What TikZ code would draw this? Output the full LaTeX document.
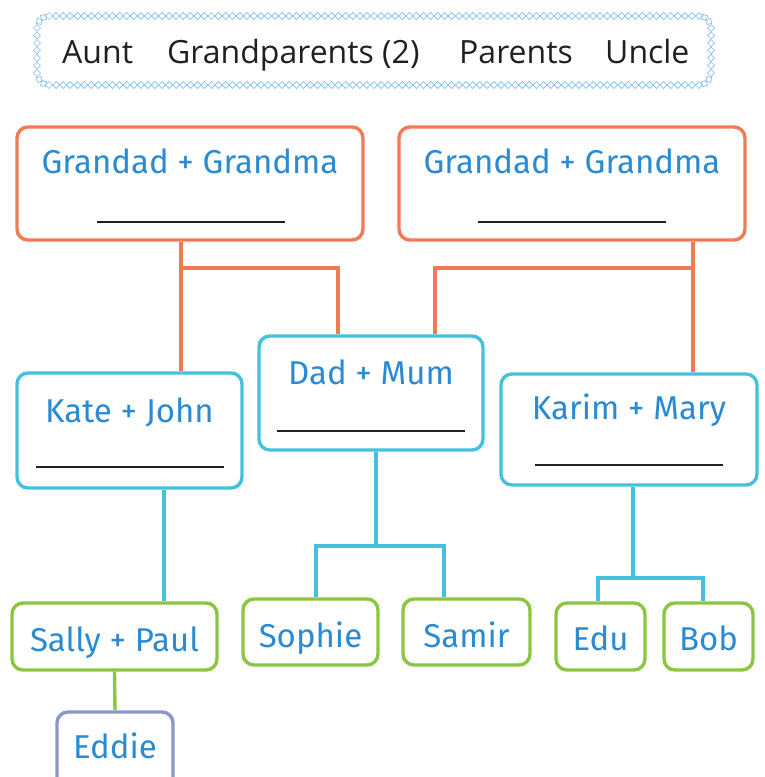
\documentclass[tikz,border=0pt]{standalone}
\usepackage{fontspec}
\setmainfont{Open Sans}
\newfontfamily\handfont{Fira Sans}
\usetikzlibrary{calc}
\definecolor{orangeb}{HTML}{F07B55}
\definecolor{cyanb}{HTML}{45C1DD}
\definecolor{greenb}{HTML}{8CC63F}
\definecolor{purpleb}{HTML}{8C96C8}
\definecolor{textblue}{HTML}{2A8BD2}
\definecolor{darktext}{HTML}{231F20}
\definecolor{chainblue}{HTML}{7FBFEB}
\newcommand{\dia}[3]{\draw[chainline, rotate around={#3:(#1,#2)}] (#1-3.5,#2) -- (#1,#2-3.5) -- (#1+3.5,#2) -- (#1,#2+3.5) -- cycle;}
\tikzset{
  box/.style={draw, line width=3.4pt, rounded corners=11pt, fill=white, inner sep=0pt},
  obox/.style={box, draw=orangeb},
  cbox/.style={box, draw=cyanb},
  gbox/.style={box, draw=greenb},
  pbox/.style={box, draw=purpleb},
  nametxt/.style={font=\handfont\fontsize{33}{36}\selectfont, text=textblue, inner sep=0pt, anchor=base},
  blank/.style={draw=darktext, line width=1.8pt},
  oline/.style={draw=orangeb, line width=3.4pt},
  cline/.style={draw=cyanb, line width=3.4pt},
  gline/.style={draw=greenb, line width=3.4pt},
  word/.style={font=\fontsize{32}{36}\selectfont, text=darktext, inner sep=0pt, anchor=base west},
  chainline/.style={draw=chainblue, line width=0.7pt},
}
\begin{document}
\begin{tikzpicture}[x=1pt,y=-1pt]
\useasboundingbox (0,0) rectangle (765,777);
% banner border: chain of small diamonds
\foreach \i in {0,...,92} {
  \pgfmathsetmacro{\xx}{49+\i*7.0652}
  \dia{\xx}{16}{0}
  \dia{\xx}{85}{0}
}
\foreach \i in {0,...,6} {
  \pgfmathsetmacro{\yy}{28+\i*7.5}
  \dia{37}{\yy}{0}
  \dia{711}{\yy}{0}
}
\dia{39.2}{21.5}{30}\dia{43.5}{17.4}{60}
\dia{708.8}{21.5}{-30}\dia{704.5}{17.4}{-60}
\dia{39.2}{79.5}{-30}\dia{43.5}{83.6}{-60}
\dia{708.8}{79.5}{30}\dia{704.5}{83.6}{60}
\node[word] (w1) at (62,63) {Aunt};
\node[word] (w2) at (167,63) {Grandparents (2)};
\node[word] (w3) at (459,63) {Parents};
\node[word] (w4) at (605,63) {Uncle};

\coordinate (o1) at (181,268);
\coordinate (o2) at (338,268);
\coordinate (o3) at (435,268);
\coordinate (o4) at (693,268);
\coordinate (c1) at (316,546);
\coordinate (c2) at (444,546);
\coordinate (c3) at (376,546);
\coordinate (c4) at (598,578);
\coordinate (c5) at (703,578);
\coordinate (c6) at (633,578);
\coordinate (c7) at (164,500);

% boxes
\node[obox, minimum width=346pt, minimum height=113pt] (gp1) at (190,183.5) {};
\node[obox, minimum width=346pt, minimum height=113pt] (gp2) at (572,183.5) {};
\node[cbox, minimum width=225pt, minimum height=115pt] (kj) at (129.5,430.5) {};
\node[cbox, minimum width=224pt, minimum height=114pt] (dm) at (371,393) {};
\node[cbox, minimum width=256pt, minimum height=111pt] (km) at (629,429.5) {};
\node[gbox, minimum width=205pt, minimum height=67pt] (sp) at (114.5,636.5) {};
\node[gbox, minimum width=135pt, minimum height=66pt] (so) at (310.5,632) {};
\node[gbox, minimum width=127pt, minimum height=66pt] (sa) at (466.5,632) {};
\node[gbox, minimum width=89pt, minimum height=67pt] (ed) at (600.5,636.5) {};
\node[gbox, minimum width=89pt, minimum height=67pt] (bo) at (708.5,636.5) {};
\node[pbox, minimum width=116pt, minimum height=76pt] (eddie) at (115,750) {};

% connectors
\path[oline] (gp1.south -| o1) -- (kj.north -| o1);
\path[oline] (o1) -- (o2) -- (dm.north -| o2);
\path[oline] (gp2.south -| o4) -- (km.north -| o4);
\path[oline] (o4) -- (o3) -- (dm.north -| o3);
\path[cline] (kj.south -| c7) -- (sp.north -| c7);
\path[cline] (dm.south -| c3) -- (c3);
\path[cline] (so.north -| c1) -- (c1) -- (c2) -- (sa.north -| c2);
\path[cline] (km.south -| c6) -- (c6);
\path[cline] (ed.north -| c4) -- (c4) -- (c5) -- (bo.north -| c5);
\path[gline] (sp.south) -- (eddie.north);

% names
\node[nametxt] (t1) at (190,173) {Grandad + Grandma};
\node[nametxt] (t2) at (572,173) {Grandad + Grandma};
\node[nametxt] (t3) at (129.5,422) {Kate + John};
\node[nametxt] (t4) at (371,384) {Dad + Mum};
\node[nametxt] (t5) at (629,419) {Karim + Mary};
\node[nametxt] (t6) at (114.5,651) {Sally + Paul};
\node[nametxt] (t7) at (310.5,647) {Sophie};
\node[nametxt] (t8) at (466.5,647) {Samir};
\node[nametxt] (t9) at (600.5,650) {Edu};
\node[nametxt] (t10) at (708.5,650) {Bob};
\node[nametxt] (t11) at (115,758) {Eddie};

% blanks
\path[blank] (97,222) -- (285,222);
\path[blank] (478,222) -- (666,222);
\path[blank] (36,467) -- (224,467);
\path[blank] (277,431) -- (465,431);
\path[blank] (535,465) -- (723,465);
\end{tikzpicture}
\end{document}
